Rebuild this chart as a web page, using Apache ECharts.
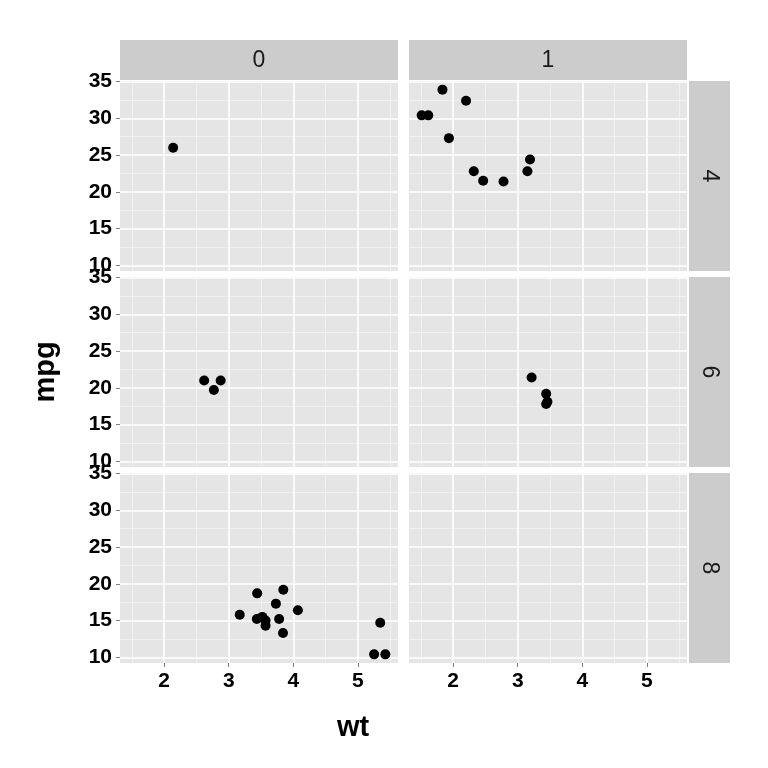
<!DOCTYPE html><html><head><meta charset="utf-8">
<script src="https://cdn.jsdelivr.net/npm/echarts@6/dist/echarts.min.js"></script>
<style>html,body{margin:0;padding:0;background:#fff}#c{width:768px;height:768px}</style></head><body><div id="c"></div>
<script>
const cylLevels=[4,6,8];
const vsLevels=[0,1];
const xTicks=[2,3,4,5];
const yTicks=[10,15,20,25,30,35];
const xMinor=[1.5,2.5,3.5,4.5,5.5];
const yMinor=[12.5,17.5,22.5,27.5,32.5];
const wt=[2.620,2.875,2.320,3.215,3.440,3.460,3.570,3.190,3.150,3.440,3.440,4.070,3.730,3.780,5.250,5.424,5.345,2.200,1.615,1.835,2.465,3.520,3.435,3.840,3.845,1.935,2.140,1.513,3.170,2.770,3.570,2.780];
const mpg=[21.0,21.0,22.8,21.4,18.7,18.1,14.3,24.4,22.8,19.2,17.8,16.4,17.3,15.2,10.4,10.4,14.7,32.4,30.4,33.9,21.5,15.5,15.2,13.3,19.2,27.3,26.0,30.4,15.8,19.7,15.0,21.4];
const cyl=[6,6,4,6,8,6,8,4,4,6,6,8,8,8,8,8,8,4,4,4,4,8,8,8,8,4,4,4,8,6,8,4];
const vs=[0,0,1,1,0,1,0,1,1,1,1,0,0,0,0,0,0,1,1,1,1,0,0,0,0,1,0,1,0,0,0,1];

const L=[120,409],W=278,T=[81,277,473],H=190;
const grids=[],xAxes=[],yAxes=[],series=[],graphic=[];
const lab={color:'#000',fontSize:21,fontWeight:'bold',fontFamily:'Liberation Sans'};
let k=0;
cylLevels.forEach((c,r)=>{vsLevels.forEach((v,col)=>{
  grids.push({left:L[col],top:T[r],width:W,height:H,show:true,backgroundColor:'#E5E5E5',borderWidth:0});
  xAxes.push({gridIndex:k,type:'value',min:1.317,max:5.620,
    axisLine:{show:false},axisTick:{show:r===2,length:4,lineStyle:{color:'#7f7f7f'},customValues:xTicks},
    axisLabel:Object.assign({show:r===2,customValues:xTicks},lab),
    splitLine:{show:false}});
  yAxes.push({gridIndex:k,type:'value',min:9.225,max:35.075,
    axisLine:{show:false},axisTick:{show:col===0,length:4,lineStyle:{color:'#7f7f7f'},customValues:yTicks},
    axisLabel:Object.assign({show:col===0,customValues:yTicks},lab),
    splitLine:{show:false}});
  const ml=[];
  xMinor.forEach(x=>ml.push({xAxis:x,lineStyle:{color:'#F2F2F2',width:0.8,type:'solid'}}));
  yMinor.forEach(y=>ml.push({yAxis:y,lineStyle:{color:'#F2F2F2',width:0.8,type:'solid'}}));
  xTicks.forEach(x=>ml.push({xAxis:x,lineStyle:{color:'#fff',width:1.6,type:'solid'}}));
  yTicks.forEach(y=>ml.push({yAxis:y,lineStyle:{color:'#fff',width:1.6,type:'solid'}}));
  series.push({type:'line',xAxisIndex:k,yAxisIndex:k,data:[],silent:true,
    markLine:{symbol:'none',label:{show:false},silent:true,animation:false,data:ml}});
  const d=[];for(let i=0;i<wt.length;i++){if(cyl[i]===c&&vs[i]===v)d.push([wt[i],mpg[i]]);}
  series.push({type:'scatter',xAxisIndex:k,yAxisIndex:k,data:d,symbolSize:10,itemStyle:{color:'#000',opacity:1},silent:true,z:5});
  k++;
});});
vsLevels.forEach((v,col)=>{
  graphic.push({type:'rect',shape:{x:L[col],y:40,width:W,height:40},style:{fill:'#CCCCCC'}});
  graphic.push({type:'text',x:L[col]+W/2,y:61,style:{text:String(v),fontSize:23,fill:'#1a1a1a',fontFamily:'Liberation Sans',align:'center',verticalAlign:'middle'}});
});
cylLevels.forEach((c,r)=>{
  graphic.push({type:'rect',shape:{x:689,y:T[r],width:41,height:H},style:{fill:'#CCCCCC'}});
  graphic.push({type:'text',x:709,y:T[r]+H/2,rotation:-Math.PI/2,style:{text:String(c),fontSize:23,fill:'#1a1a1a',fontFamily:'Liberation Sans',align:'center',verticalAlign:'middle'}});
});
graphic.push({type:'text',x:353,y:728,style:{text:'wt',fontSize:29,fontWeight:'bold',fill:'#000',fontFamily:'Liberation Sans',align:'center',verticalAlign:'middle'}});
graphic.push({type:'text',x:46,y:372,rotation:Math.PI/2,style:{text:'mpg',fontSize:29,fontWeight:'bold',fill:'#000',fontFamily:'Liberation Sans',align:'center',verticalAlign:'middle'}});
const chart=echarts.init(document.getElementById('c'));
chart.setOption({animation:false,grid:grids,xAxis:xAxes,yAxis:yAxes,series:series,graphic:graphic});
</script></body></html>
